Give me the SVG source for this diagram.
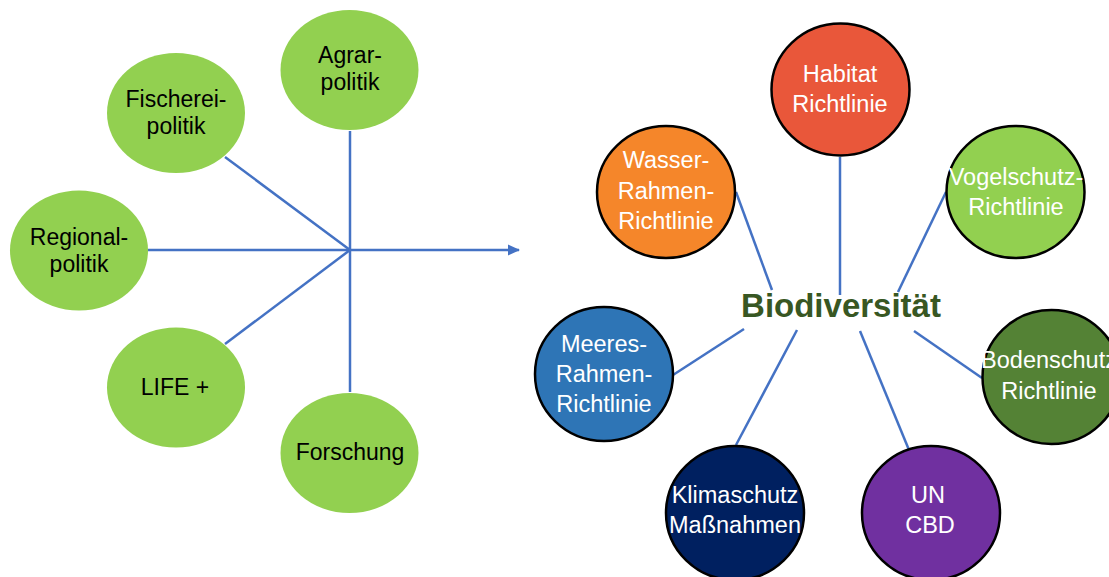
<svg xmlns="http://www.w3.org/2000/svg" width="1109" height="577" viewBox="0 0 1109 577">
<style>
.lg { fill: #92D050; }
.rc { stroke: #000000; stroke-width: 2.5; }
.conn { stroke: #4472C4; stroke-width: 2.5; fill: none; }
.tl { font-family: "Liberation Sans", Arial, sans-serif; font-size: 23px; fill: #000000; text-anchor: middle; }
.tr { font-family: "Liberation Sans", Arial, sans-serif; font-size: 23.5px; fill: #FFFFFF; text-anchor: middle; }
.title { font-family: "Liberation Sans", Arial, sans-serif; font-size: 33px; font-weight: bold; fill: #385723; text-anchor: middle; }
</style>
<defs>
<marker id="arrow" viewBox="0 0 12 12" refX="11" refY="6" markerWidth="12" markerHeight="12" orient="auto" markerUnits="userSpaceOnUse">
<path d="M0,0.5 L12,6 L0,11.5 Z" fill="#4472C4"/>
</marker>
</defs>
<rect width="1109" height="577" fill="#FFFFFF"/>
<g id="connectors">
<line class="conn" x1="350" y1="131" x2="350" y2="250"/>
<line class="conn" x1="225" y1="157" x2="350" y2="250"/>
<line class="conn" x1="148" y1="250" x2="350" y2="250"/>
<line class="conn" x1="225" y1="344" x2="350" y2="250"/>
<line class="conn" x1="350" y1="392" x2="350" y2="250"/>
<line class="conn" x1="350" y1="250" x2="519" y2="250" marker-end="url(#arrow)"/>
<line class="conn" x1="736" y1="192" x2="772" y2="290"/>
<line class="conn" x1="840" y1="157" x2="840" y2="295"/>
<line class="conn" x1="946" y1="192" x2="898" y2="292"/>
<line class="conn" x1="744" y1="329" x2="673" y2="375"/>
<line class="conn" x1="797" y1="330" x2="736" y2="445"/>
<line class="conn" x1="860" y1="331" x2="909" y2="450"/>
<line class="conn" x1="914" y1="331" x2="982" y2="378"/>
</g>
<g id="agrar">
<ellipse class="lg" cx="349.5" cy="70" rx="69" ry="60"/>
<text class="tl" x="350" y="62.5">Agrar-</text>
<text class="tl" x="350" y="90">politik</text>
</g>
<g id="fischerei">
<ellipse class="lg" cx="176" cy="113" rx="69" ry="60"/>
<text class="tl" x="176" y="106.5">Fischerei-</text>
<text class="tl" x="176" y="134">politik</text>
</g>
<g id="regional">
<ellipse class="lg" cx="79" cy="250.5" rx="69" ry="60"/>
<text class="tl" x="79" y="245">Regional-</text>
<text class="tl" x="79" y="272">politik</text>
</g>
<g id="life">
<ellipse class="lg" cx="176" cy="387.5" rx="69" ry="60"/>
<text class="tl" x="175" y="395">LIFE +</text>
</g>
<g id="forschung">
<ellipse class="lg" cx="349.5" cy="453" rx="69" ry="60"/>
<text class="tl" x="350" y="460">Forschung</text>
</g>
<g id="biodiversitaet">
<text class="title" x="841" y="317">Biodiversität</text>
</g>
<g id="habitat">
<ellipse class="rc" cx="840.5" cy="89.5" rx="69" ry="66" fill="#E9573A"/>
<text class="tr" x="840" y="82">Habitat</text>
<text class="tr" x="840" y="112">Richtlinie</text>
</g>
<g id="wasser">
<ellipse class="rc" cx="666" cy="192" rx="69" ry="66" fill="#F5862A"/>
<text class="tr" x="666" y="168">Wasser-</text>
<text class="tr" x="666" y="199">Rahmen-</text>
<text class="tr" x="666" y="229">Richtlinie</text>
</g>
<g id="vogelschutz">
<ellipse class="rc" cx="1015.5" cy="192" rx="69" ry="66" fill="#92D050"/>
<text class="tr" x="1016" y="185">Vogelschutz-</text>
<text class="tr" x="1016" y="215">Richtlinie</text>
</g>
<g id="meeres">
<ellipse class="rc" cx="604" cy="374" rx="69" ry="67" fill="#2E75B6"/>
<text class="tr" x="604" y="352">Meeres-</text>
<text class="tr" x="604" y="382">Rahmen-</text>
<text class="tr" x="604" y="412">Richtlinie</text>
</g>
<g id="bodenschutz">
<ellipse class="rc" cx="1051.5" cy="377" rx="69" ry="67" fill="#548235"/>
<text class="tr" x="1049" y="368">Bodenschutz</text>
<text class="tr" x="1049" y="399">Richtlinie</text>
</g>
<g id="klimaschutz">
<ellipse class="rc" cx="735" cy="513" rx="69" ry="67" fill="#002060"/>
<text class="tr" x="735" y="503" font-size="23">Klimaschutz</text>
<text class="tr" x="735" y="533" font-size="23">Maßnahmen</text>
</g>
<g id="uncbd">
<ellipse class="rc" cx="931" cy="513" rx="69" ry="67" fill="#7030A0"/>
<text class="tr" x="928" y="503">UN</text>
<text class="tr" x="930" y="533">CBD</text>
</g>
</svg>
